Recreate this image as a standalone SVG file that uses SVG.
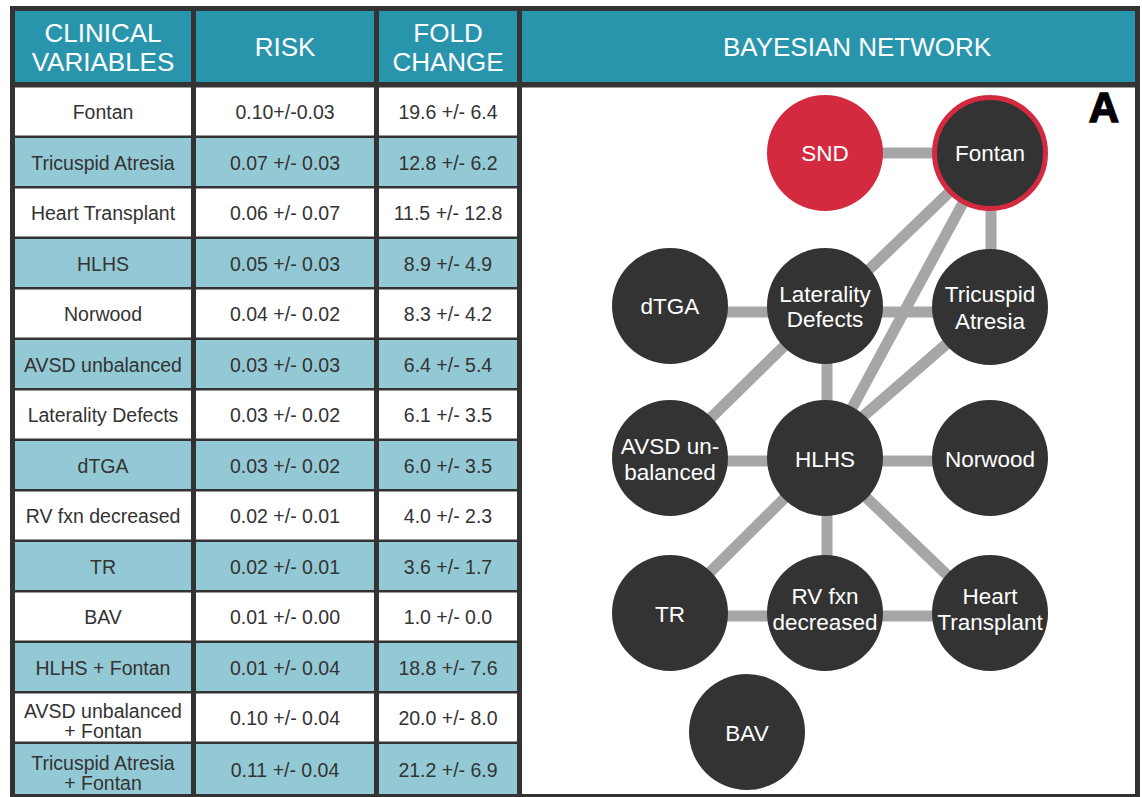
<svg xmlns="http://www.w3.org/2000/svg" width="1142" height="797" viewBox="0 0 1142 797">
<style>
.hd{fill:#2895ad}
.w{fill:#ffffff}
.l{fill:#93c9d5}
.ht{font-family:"Liberation Sans",Arial,sans-serif;font-size:26px;fill:#ffffff;text-anchor:middle}
.tt{font-family:"Liberation Sans",Arial,sans-serif;font-size:19.5px;fill:#333333;text-anchor:middle}
.edge{stroke:#a6a6a6;stroke-width:11;fill:none}
.node{fill:#333333}
.nt{font-family:"Liberation Sans",Arial,sans-serif;font-size:22.5px;fill:#ffffff;text-anchor:middle}
</style>
<rect x="0" y="0" width="1142" height="797" fill="#ffffff"/>
<rect x="10" y="6" width="1130" height="791" fill="#333333"/>
<g id="header">
<rect class="hd" x="15" y="11" width="176" height="71"/>
<rect class="hd" x="196" y="11" width="178" height="71"/>
<rect class="hd" x="379" y="11" width="138" height="71"/>
<rect class="hd" x="522" y="11" width="613" height="71"/>
<text class="ht" x="103" y="42">CLINICAL</text>
<text class="ht" x="103" y="71">VARIABLES</text>
<text class="ht" x="285" y="56">RISK</text>
<text class="ht" x="448" y="42">FOLD</text>
<text class="ht" x="448" y="71">CHANGE</text>
<text class="ht" x="857" y="56">BAYESIAN NETWORK</text>
</g>
<g id="table">
<g id="row0"><rect class="w" x="15" y="87.5" width="176" height="48"/><rect class="w" x="196" y="87.5" width="178" height="48"/><rect class="w" x="379" y="87.5" width="138" height="48"/>
<text class="tt" x="103" y="119">Fontan</text><text class="tt" x="285" y="119">0.10+/-0.03</text><text class="tt" x="448" y="119">19.6 +/- 6.4</text></g>
<g id="row1"><rect class="l" x="15" y="138" width="176" height="48"/><rect class="l" x="196" y="138" width="178" height="48"/><rect class="l" x="379" y="138" width="138" height="48"/>
<text class="tt" x="103" y="169.5">Tricuspid Atresia</text><text class="tt" x="285" y="169.5">0.07 +/- 0.03</text><text class="tt" x="448" y="169.5">12.8 +/- 6.2</text></g>
<g id="row2"><rect class="w" x="15" y="188.5" width="176" height="48"/><rect class="w" x="196" y="188.5" width="178" height="48"/><rect class="w" x="379" y="188.5" width="138" height="48"/>
<text class="tt" x="103" y="220">Heart Transplant</text><text class="tt" x="285" y="220">0.06 +/- 0.07</text><text class="tt" x="448" y="220">11.5 +/- 12.8</text></g>
<g id="row3"><rect class="l" x="15" y="239" width="176" height="48"/><rect class="l" x="196" y="239" width="178" height="48"/><rect class="l" x="379" y="239" width="138" height="48"/>
<text class="tt" x="103" y="270.5">HLHS</text><text class="tt" x="285" y="270.5">0.05 +/- 0.03</text><text class="tt" x="448" y="270.5">8.9 +/- 4.9</text></g>
<g id="row4"><rect class="w" x="15" y="289.5" width="176" height="48"/><rect class="w" x="196" y="289.5" width="178" height="48"/><rect class="w" x="379" y="289.5" width="138" height="48"/>
<text class="tt" x="103" y="321">Norwood</text><text class="tt" x="285" y="321">0.04 +/- 0.02</text><text class="tt" x="448" y="321">8.3 +/- 4.2</text></g>
<g id="row5"><rect class="l" x="15" y="340" width="176" height="48"/><rect class="l" x="196" y="340" width="178" height="48"/><rect class="l" x="379" y="340" width="138" height="48"/>
<text class="tt" x="103" y="371.5">AVSD unbalanced</text><text class="tt" x="285" y="371.5">0.03 +/- 0.03</text><text class="tt" x="448" y="371.5">6.4 +/- 5.4</text></g>
<g id="row6"><rect class="w" x="15" y="390.5" width="176" height="48"/><rect class="w" x="196" y="390.5" width="178" height="48"/><rect class="w" x="379" y="390.5" width="138" height="48"/>
<text class="tt" x="103" y="422">Laterality Defects</text><text class="tt" x="285" y="422">0.03 +/- 0.02</text><text class="tt" x="448" y="422">6.1 +/- 3.5</text></g>
<g id="row7"><rect class="l" x="15" y="441" width="176" height="48"/><rect class="l" x="196" y="441" width="178" height="48"/><rect class="l" x="379" y="441" width="138" height="48"/>
<text class="tt" x="103" y="472.5">dTGA</text><text class="tt" x="285" y="472.5">0.03 +/- 0.02</text><text class="tt" x="448" y="472.5">6.0 +/- 3.5</text></g>
<g id="row8"><rect class="w" x="15" y="491.5" width="176" height="48"/><rect class="w" x="196" y="491.5" width="178" height="48"/><rect class="w" x="379" y="491.5" width="138" height="48"/>
<text class="tt" x="103" y="523">RV fxn decreased</text><text class="tt" x="285" y="523">0.02 +/- 0.01</text><text class="tt" x="448" y="523">4.0 +/- 2.3</text></g>
<g id="row9"><rect class="l" x="15" y="542" width="176" height="48"/><rect class="l" x="196" y="542" width="178" height="48"/><rect class="l" x="379" y="542" width="138" height="48"/>
<text class="tt" x="103" y="573.5">TR</text><text class="tt" x="285" y="573.5">0.02 +/- 0.01</text><text class="tt" x="448" y="573.5">3.6 +/- 1.7</text></g>
<g id="row10"><rect class="w" x="15" y="592.5" width="176" height="48"/><rect class="w" x="196" y="592.5" width="178" height="48"/><rect class="w" x="379" y="592.5" width="138" height="48"/>
<text class="tt" x="103" y="624">BAV</text><text class="tt" x="285" y="624">0.01 +/- 0.00</text><text class="tt" x="448" y="624">1.0 +/- 0.0</text></g>
<g id="row11"><rect class="l" x="15" y="643" width="176" height="48"/><rect class="l" x="196" y="643" width="178" height="48"/><rect class="l" x="379" y="643" width="138" height="48"/>
<text class="tt" x="103" y="674.5">HLHS + Fontan</text><text class="tt" x="285" y="674.5">0.01 +/- 0.04</text><text class="tt" x="448" y="674.5">18.8 +/- 7.6</text></g>
<g id="row12"><rect class="w" x="15" y="693.5" width="176" height="48"/><rect class="w" x="196" y="693.5" width="178" height="48"/><rect class="w" x="379" y="693.5" width="138" height="48"/>
<text class="tt" x="103" y="717.5">AVSD unbalanced</text><text class="tt" x="103" y="737.5">+ Fontan</text><text class="tt" x="285" y="725">0.10 +/- 0.04</text><text class="tt" x="448" y="725">20.0 +/- 8.0</text></g>
<g id="row13"><rect class="l" x="15" y="744" width="176" height="50"/><rect class="l" x="196" y="744" width="178" height="50"/><rect class="l" x="379" y="744" width="138" height="50"/>
<text class="tt" x="103" y="770">Tricuspid Atresia</text><text class="tt" x="103" y="790">+ Fontan</text><text class="tt" x="285" y="777">0.11 +/- 0.04</text><text class="tt" x="448" y="777">21.2 +/- 6.9</text></g>
</g>
<rect x="522" y="87.5" width="613" height="706.5" fill="#ffffff"/>
<g id="connectors">
<line class="edge" x1="825" y1="153" x2="990" y2="153"/>
<line class="edge" x1="991" y1="153" x2="991" y2="306"/>
<line class="edge" x1="990" y1="153" x2="825" y2="312"/>
<line class="edge" x1="990" y1="153" x2="825" y2="458"/>
<line class="edge" x1="670" y1="312" x2="990" y2="312"/>
<line class="edge" x1="827" y1="306" x2="827" y2="612"/>
<line class="edge" x1="825" y1="306" x2="670" y2="458"/>
<line class="edge" x1="988" y1="308" x2="815" y2="458"/>
<line class="edge" x1="670" y1="461" x2="990" y2="461"/>
<line class="edge" x1="825" y1="458" x2="670" y2="612"/>
<line class="edge" x1="825" y1="458" x2="990" y2="616"/>
<line class="edge" x1="670" y1="616" x2="990" y2="616"/>
</g>
<g id="node-snd"><circle cx="825" cy="153" r="58" fill="#d42a40"/><text class="nt" x="825" y="161">SND</text></g>
<g id="node-fontan"><circle cx="990" cy="153" r="55.5" class="node" stroke="#d42a40" stroke-width="5"/><text class="nt" x="990" y="161">Fontan</text></g>
<g id="node-dtga"><circle class="node" cx="670" cy="306" r="58"/><text class="nt" x="670" y="314">dTGA</text></g>
<g id="node-laterality"><circle class="node" cx="825" cy="306" r="58"/><text class="nt" x="825" y="302">Laterality</text><text class="nt" x="825" y="327">Defects</text></g>
<g id="node-tricuspid"><circle class="node" cx="990" cy="307" r="58"/><text class="nt" x="990" y="302">Tricuspid</text><text class="nt" x="990" y="329">Atresia</text></g>
<g id="node-avsd"><circle class="node" cx="670" cy="458" r="58"/><text class="nt" x="670" y="454">AVSD un-</text><text class="nt" x="670" y="480">balanced</text></g>
<g id="node-hlhs"><circle class="node" cx="825" cy="458" r="58"/><text class="nt" x="825" y="467">HLHS</text></g>
<g id="node-norwood"><circle class="node" cx="990" cy="458" r="58"/><text class="nt" x="990" y="467">Norwood</text></g>
<g id="node-tr"><circle class="node" cx="670" cy="613" r="58"/><text class="nt" x="670" y="622">TR</text></g>
<g id="node-rv"><circle class="node" cx="825" cy="613" r="58"/><text class="nt" x="825" y="604">RV fxn</text><text class="nt" x="825" y="630">decreased</text></g>
<g id="node-heart"><circle class="node" cx="990" cy="613" r="58"/><text class="nt" x="990" y="604">Heart</text><text class="nt" x="990" y="630">Transplant</text></g>
<g id="node-bav"><circle class="node" cx="747" cy="732" r="58"/><text class="nt" x="747" y="741">BAV</text></g>
<text x="1104" y="122" font-family="'Liberation Sans',Arial,sans-serif" font-size="42" font-weight="bold" fill="#000000" stroke="#000000" stroke-width="1.5" text-anchor="middle">A</text>
</svg>
